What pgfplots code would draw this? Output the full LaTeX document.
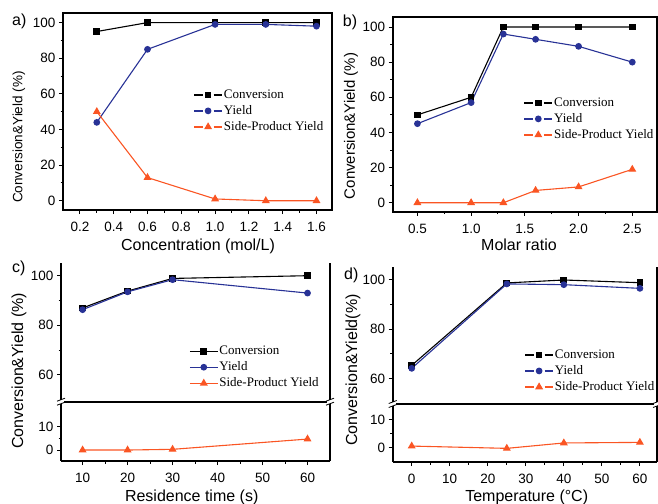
\documentclass[border=0pt]{standalone}
\usepackage{fontspec}
\setmainfont{Liberation Sans}
\newfontfamily\legfont{Liberation Serif}
\usepackage{pgfplots}
\pgfplotsset{compat=1.18}

\definecolor{cblue}{RGB}{40,50,150}
\definecolor{cred}{RGB}{250,85,35}

\pgfplotsset{
  panel/.style={
    scale only axis,
    anchor=north west,
    tick align=outside,
    tick pos=left,
    axis line style={line width=1.6pt},
    major tick length=4pt,
    minor tick length=2.5pt,
    tick style={line width=1pt, black},
    minor y tick num=1,
    minor x tick num=1,
    ticklabel style={font=\fontsize{13.5}{13.5}\selectfont},
    x tick label style={yshift=-5pt},
    /pgf/number format/assume math mode=true,
    clip=false,
    legend cell align=left,
    legend style={draw=none, fill=none, anchor=north west,
      font=\legfont\fontsize{13}{13}\selectfont, inner sep=0pt,
      nodes={inner sep=1pt, text height=10.5pt, text depth=3.5pt}},
  },
  conv/.style={black, line width=1.1pt, mark=square*, mark size=2.8pt},
  yld/.style={cblue, line width=1.1pt, mark=*, mark size=2.8pt},
  side/.style={cred, line width=1.1pt, mark=triangle*, mark size=3.5pt},
  gapleg/.style={legend image code/.code={
      \draw[##1, mark=none, line width=1.7pt] (0pt,0pt) -- (8.5pt,0pt);
      \draw[##1, mark=none, line width=1.7pt] (19.5pt,0pt) -- (28pt,0pt);
      \draw[##1] plot coordinates {(14pt,0pt)};}},
  solidleg/.style={legend image code/.code={
      \draw[mark repeat=2, mark phase=2, ##1] plot coordinates {(0pt,0pt) (14pt,0pt) (28pt,0pt)};}},
  onedec/.style={x tick label style={/pgf/number format/fixed,
      /pgf/number format/fixed zerofill, /pgf/number format/precision=1}},
}

\newcommand\brk[2]{%
  \fill[white] (#1pt-3pt,-#2pt-2pt) rectangle (#1pt+3pt,-#2pt+2pt);
  \draw[line width=0.8pt] (#1pt-4pt,-#2pt-3.5pt) -- (#1pt+4pt,-#2pt-0.5pt);
  \draw[line width=0.8pt] (#1pt-4pt,-#2pt+0.5pt) -- (#1pt+4pt,-#2pt+3.5pt);
}

\begin{document}
\begin{tikzpicture}

% a) concentration
\begin{axis}[panel, at={(63pt,-13pt)}, width=268.7pt, height=197pt,
  xmin=0.1, xmax=1.69, ymin=-5.2, ymax=105.4,
  xtick={0.2,0.4,0.6,0.8,1.0,1.2,1.4,1.6}, ytick={0,20,40,60,80,100},
  onedec, gapleg, legend style={at={(0.484,0.626)}}]
\addplot[conv] coordinates {(0.3,95) (0.6,100) (1.0,100) (1.3,100) (1.6,100)};
\addplot[yld] coordinates {(0.3,44) (0.6,85) (1.0,99) (1.3,99) (1.6,98)};
\addplot[side] coordinates {(0.3,50) (0.6,13) (1.0,1) (1.3,0) (1.6,0)};
\legend{Conversion, Yield, Side-Product Yield}
\end{axis}

% b) molar ratio
\begin{axis}[panel, at={(392.7pt,-17pt)}, width=264.3pt, height=194.7pt,
  xmin=0.27, xmax=2.73, ymin=-5.1, ymax=105.7,
  xtick={0.5,1.0,1.5,2.0,2.5}, ytick={0,20,40,60,80,100},
  onedec, gapleg, legend style={at={(0.494,0.601)}}]
\addplot[conv] coordinates {(0.5,50) (1.0,60) (1.3,100) (1.6,100) (2.0,100) (2.5,100)};
\addplot[yld] coordinates {(0.5,45) (1.0,57) (1.3,96) (1.6,93) (2.0,89) (2.5,80)};
\addplot[side] coordinates {(0.5,0) (1.0,0) (1.3,0) (1.6,7) (2.0,9) (2.5,19)};
\legend{Conversion, Yield, Side-Product Yield}
\end{axis}

% c) residence time, upper part
\begin{axis}[panel, at={(61pt,-263.3pt)}, width=269pt, height=138.4pt,
  axis x line*=top, axis y line*=box, xtick=\empty, ytick pos=left,
  xmin=5.2, xmax=65, ymin=49.2, ymax=105, ytick={60,80,100},
  solidleg, legend style={at={(0.476,0.424)}}]
\addplot[conv] coordinates {(10,87) (20,93.8) (30,98.9) (60,100)};
\addplot[yld] coordinates {(10,86.3) (20,93.5) (30,98.4) (60,93)};
\addplot[side] coordinates {(10,0) (20,0) (30,0.3) (60,4.7)};
\legend{Conversion, Yield, Side-Product Yield}
\end{axis}
% c) lower part
\begin{axis}[panel, at={(61pt,-401.7pt)}, width=269pt, height=59.3pt,
  axis x line*=bottom, axis y line*=box, ytick pos=left,
  xmin=5.2, xmax=65, ymin=-4.7, ymax=20.7,
  xtick={10,20,30,40,50,60}, ytick={0,10}]
\addplot[side] coordinates {(10,0) (20,0) (30,0.3) (60,4.7)};
\end{axis}

% d) temperature, upper part
\begin{axis}[panel, at={(392.7pt,-266.7pt)}, width=264.3pt, height=137.3pt,
  axis x line*=top, axis y line*=box, xtick=\empty, ytick pos=left,
  xmin=-5, xmax=64.5, ymin=49.6, ymax=105.4, ytick={60,80,100},
  gapleg, legend style={at={(0.497,0.417)}}]
\addplot[conv] coordinates {(0,65.3) (25,98.8) (40,100) (60,98.9)};
\addplot[yld] coordinates {(0,64.1) (25,98.4) (40,98.1) (60,96.6)};
\addplot[side] coordinates {(0,0.6) (25,-0.2) (40,1.7) (60,1.9)};
\legend{Conversion, Yield, Side-Product Yield}
\end{axis}
% d) lower part
\begin{axis}[panel, at={(392.7pt,-404pt)}, width=264.3pt, height=58pt,
  axis x line*=bottom, axis y line*=box, ytick pos=left,
  xmin=-5, xmax=64.5, ymin=-5, ymax=15.4,
  xtick={0,10,20,30,40,50,60}, ytick={0,10}]
\addplot[side] coordinates {(0,0.6) (25,-0.2) (40,1.7) (60,1.9)};
\end{axis}

\brk{61}{401.7}
\brk{330}{401.7}
\brk{392.7}{404}
\brk{657}{404}

% panel letters and x labels
\begin{scope}[font=\fontsize{16}{16}\selectfont]
\node[anchor=base west, inner sep=0pt] at (12pt,-26pt) {a)};
\node[anchor=base west, inner sep=0pt] at (342.7pt,-27pt) {b)};
\node[anchor=base west, inner sep=0pt] at (12pt,-272.5pt) {c)};
\node[anchor=base west, inner sep=0pt] at (344pt,-279pt) {d)};
\node[anchor=base] at (198pt,-250.5pt) {Concentration (mol/L)};
\node[anchor=base] at (519pt,-250.5pt) {Molar ratio};
\node[anchor=base] at (191.7pt,-501pt) {Residence time (s)};
\node[anchor=base] at (526.7pt,-501pt) {Temperature (°C)};
\end{scope}

% y labels
\node[rotate=90, font=\fontsize{13.5}{13.5}\selectfont] at (19pt,-137pt) {Conversion\&Yield (\%)};
\node[rotate=90, font=\fontsize{15}{15}\selectfont] at (351pt,-126pt) {Conversion\&Yield (\%)};
\node[rotate=90, font=\fontsize{16}{16}\selectfont] at (19pt,-371pt) {Conversion\&Yield (\%)};
\node[rotate=90, font=\fontsize{16}{16}\selectfont] at (353pt,-370pt) {Conversion\&Yield(\%)};

\pgfresetboundingbox
\useasboundingbox (0,0) rectangle (658pt,-503pt);
\end{tikzpicture}
\end{document}
